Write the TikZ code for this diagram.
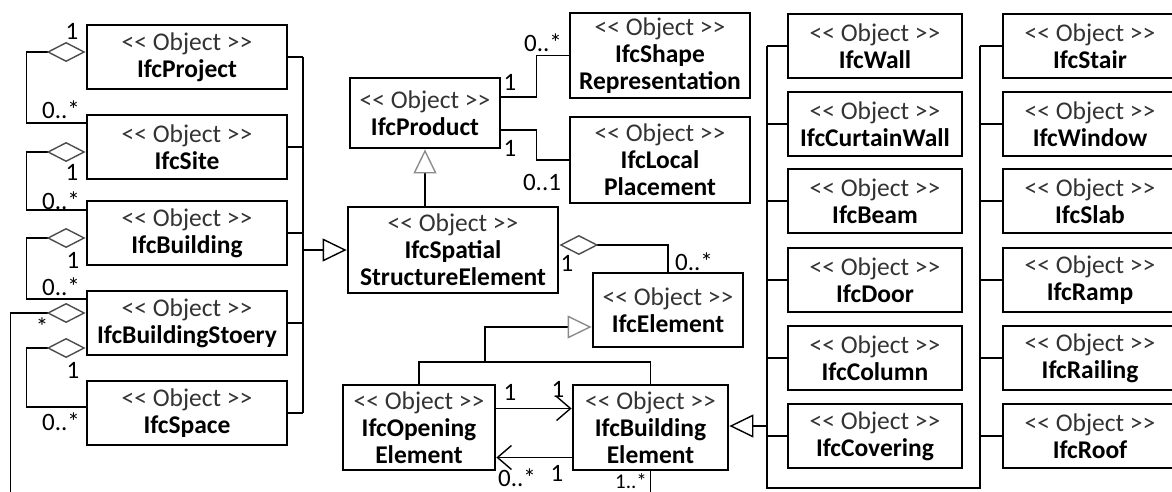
\documentclass[tikz,border=0pt]{standalone}
\usepackage{fontspec}
\setmainfont{Carlito}[Ligatures=TeXOff]
\usetikzlibrary{arrows.meta}

\tikzset{
  obj/.style={draw, line width=2.8pt, inner sep=0pt, align=center, font=\fontsize{25.5}{27}\selectfont\bfseries},
  leftobj/.style={obj, minimum width=200pt, minimum height=64pt},
  colobj/.style={obj, minimum width=174pt, minimum height=64pt},
  link/.style={line width=1.6pt},
  gen/.style={link, -{Triangle[open, length=24pt, width=23pt, line width=1.4pt]}},
  graygen/.style={link, -{Triangle[open, length=24pt, width=23pt, line width=1.4pt, color=black!45]}},
  agg/.style={link, {Diamond[open, length=39pt, width=20pt, line width=1.4pt, color=black!70]}-},
  nav/.style={link, -{Straight Barb[length=14pt, width=24pt, line width=1.4pt]}},
  mult/.style={font=\fontsize{25}{25}\selectfont, inner sep=0pt},
}
\newcommand{\ifcobj}[1]{{\mdseries\color{black!80}<< Object >>}\\#1}

\begin{document}
\begin{tikzpicture}[x=1pt, y=-1pt]
    \useasboundingbox (0,0) rectangle (1172,492);
    \clip (0,0) rectangle (1172,492);

    % Spatial structure column
    \node[leftobj] (proj)   at (187,57)  {\ifcobj{IfcProject}};
    \node[leftobj] (site)   at (187,147) {\ifcobj{IfcSite}};
    \node[leftobj] (bldg)   at (187,233) {\ifcobj{IfcBuilding}};
    \node[leftobj] (storey) at (187,323) {\ifcobj{IfcBuildingStoery}};
    \node[leftobj] (space)  at (187,413) {\ifcobj{IfcSpace}};

    % Product and its parts
    \node[obj, minimum width=150pt, minimum height=70pt] (product) at (425,113) {\ifcobj{IfcProduct}};
    \node[obj, minimum width=180pt, minimum height=85pt] (shape) at (660,55.5) {\ifcobj{IfcShape\\Representation}};
    \node[obj, minimum width=180pt, minimum height=86pt] (local) at (660,160) {\ifcobj{IfcLocal\\Placement}};
    \node[obj, minimum width=210pt, minimum height=86pt] (spatial) at (453,250) {\ifcobj{IfcSpatial\\StructureElement}};
    \node[obj, minimum width=150pt, minimum height=74pt] (element) at (668,310) {\ifcobj{IfcElement}};
    \node[obj, minimum width=152pt, minimum height=85pt] (opening) at (419,427.5) {\ifcobj{IfcOpening\\Element}};
    \node[obj, minimum width=155pt, minimum height=85pt] (belem) at (650.5,427.5) {\ifcobj{IfcBuilding\\Element}};

    % Building element types
    \node[colobj] (wall)     at (875,46)  {\ifcobj{IfcWall}};
    \node[colobj] (curtain)  at (875,124) {\ifcobj{IfcCurtainWall}};
    \node[colobj] (beam)     at (875,201) {\ifcobj{IfcBeam}};
    \node[colobj] (door)     at (875,280) {\ifcobj{IfcDoor}};
    \node[colobj] (column)   at (875,358) {\ifcobj{IfcColumn}};
    \node[colobj] (covering) at (875,436) {\ifcobj{IfcCovering}};
    \node[colobj] (stair)    at (1090,46)  {\ifcobj{IfcStair}};
    \node[colobj] (window)   at (1090,124) {\ifcobj{IfcWindow}};
    \node[colobj] (slab)     at (1090,201) {\ifcobj{IfcSlab}};
    \node[colobj] (ramp)     at (1090,280) {\ifcobj{IfcRamp}};
    \node[colobj] (railing)  at (1090,358) {\ifcobj{IfcRailing}};
    \node[colobj] (roof)     at (1090,436) {\ifcobj{IfcRoof}};

    % Bus lines
    \coordinate (busLtop) at (303,57);
    \coordinate (busLbot) at (303,413);
    \coordinate (busLgen) at (303,250);
    \coordinate (busAtop) at (767,46);
    \coordinate (busAbot) at (767,488);
    \coordinate (busAgen) at (767,426);
    \coordinate (busBtop) at (980,46);
    \coordinate (busBbot) at (980,488);
    \coordinate (elemBus) at (485,362);
    \coordinate (storeyEnd) at (12,495);
    \coordinate (belemEnd) at (650.5,495);

    \draw[link] (busLtop) -- (busLbot);
    \foreach \n in {proj,site,bldg,storey,space}
      \draw[link] (\n.east) -- (\n.east -| busLtop);
    \draw[gen] (busLgen) -- (spatial.west);

    \draw[link] (busAtop) -- (busAbot) -- (busBbot) -- (busBtop);
    \foreach \n in {wall,curtain,beam,door,column,covering}
      \draw[link] (\n.west) -- (\n.west -| busAtop);
    \foreach \n in {stair,window,slab,ramp,railing,roof}
      \draw[link] (\n.west) -- (\n.west -| busBtop);
    \draw[gen] (busAgen) -- ([yshift=1.5pt]belem.east);

    % Aggregations of the spatial structure
    \draw[agg] ([yshift=5pt]proj.west) -- ++(-59,0) |- ([yshift=24pt]site.west);
    \draw[agg] ([yshift=-5pt]site.west) -- ++(-59,0) |- ([yshift=23pt]bldg.west);
    \draw[agg] ([yshift=-5pt]bldg.west) -- ++(-59,0) |- ([yshift=24pt]storey.west);
    \draw[agg] ([yshift=10pt]storey.west) -- ++(-75,0) |- (storeyEnd);
    \draw[agg] ([yshift=-25pt]storey.west) -- ++(-59,0) |- ([yshift=6pt]space.west);
    \node[mult] at (72,31)  {1};
    \node[mult] at (61,110) {0..*};
    \node[mult] at (72,172) {1};
    \node[mult] at (61,201) {0..*};
    \node[mult] at (73,260) {1};
    \node[mult] at (61,287) {0..*};
    \node[mult] at (42,327) {*};
    \node[mult] at (73,370) {1};
    \node[mult] at (61,422) {0..*};

    % Product relations
    \draw[link] ([yshift=16pt]product.east) -- ++(35,0) |- (shape.west);
    \draw[link] ([yshift=-17pt]product.east) -- ++(35,0) |- (local.west);
    \draw[graygen] (product.south |- spatial.north) -- (product.south);
    \node[mult] at (510,82)  {1};
    \node[mult] at (543,43)  {0..*};
    \node[mult] at (510,148) {1};
    \node[mult] at (542,182) {0..1};

    % Elements
    \draw[agg] ([yshift=5pt]spatial.east) -| (element.north);
    \node[mult] at (567,263) {1};
    \node[mult] at (694,262) {0..*};
    \draw[link] (opening.north) |- (elemBus) -| (belem.north);
    \draw[graygen] (elemBus) |- ([yshift=-17pt]element.west);

    % Openings in building elements
    \draw[nav] ([yshift=19pt]opening.east) -- ([yshift=19pt]belem.west);
    \draw[nav] ([yshift=-30pt]belem.west) -- ([yshift=-30pt]opening.east);
    \draw[link] (belem.south) -- (belemEnd);
    \node[mult] at (510,392) {1};
    \node[mult] at (558,389) {1};
    \node[mult] at (517,478) {0..*};
    \node[mult] at (557,473) {1};
    \node[mult, font=\fontsize{21}{21}\selectfont] at (631,481) {1..*};

\end{tikzpicture}
\end{document}
